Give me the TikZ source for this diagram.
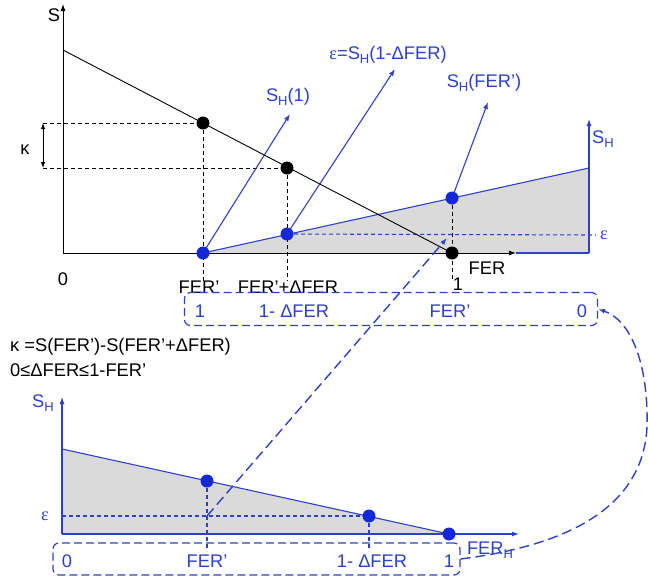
\documentclass[tikz,border=0pt]{standalone}
\usepackage{fontspec}
\setmainfont{Liberation Sans}
\newfontfamily\serifgr{Liberation Serif}
\usetikzlibrary{arrows.meta}
\definecolor{bl}{RGB}{45,65,200}
\definecolor{dotblue}{RGB}{20,40,215}
\definecolor{greyfill}{RGB}{218,218,218}
\newcommand\lowH{\raisebox{-0.4ex}{\fontsize{13}{13}\selectfont H}}
\newcommand\eps{{\serifgr ε}}
\begin{document}
\begin{tikzpicture}[x=1pt,y=-1pt,
 lbl/.style={font=\fontsize{18.3}{20}\selectfont, inner sep=0pt},
 blbl/.style={lbl, text=bl},
 bdot/.style={circle, fill=black, minimum size=13pt, inner sep=0pt},
 udot/.style={circle, fill=dotblue, minimum size=13pt, inner sep=0pt},
 blk/.style={black, line width=0.9pt},
 bline/.style={bl, line width=1.1pt},
 bdash/.style={bl, line width=1.1pt, dash pattern=on 4pt off 3pt},
 kdash/.style={black, line width=1pt, dash pattern=on 4pt off 3pt},
 ldash/.style={bl, line width=1.4pt, dash pattern=on 10pt off 5pt},
 tip/.style={-{Latex[length=7pt,width=5pt]}},
 frame/.style={draw=bl, line width=1.2pt, dash pattern=on 8pt off 4pt, rounded corners=6pt, inner sep=0pt}
]
\useasboundingbox (0,0) rectangle (648,582);

% ---------- top chart coordinates ----------
\coordinate (O) at (63,253);
\coordinate (Stop) at (63,4);
\coordinate (Xend) at (516,253);
\coordinate (Sstart) at (63,50);
\coordinate (SHbase) at (589,253);
\coordinate (SHtop) at (589,119);
\coordinate (SHhi) at (589,168);
\coordinate (pk1) at (203,123);
\coordinate (pk2) at (287,168);
\coordinate (pk3) at (452,253);
\coordinate (pu1) at (203,253);
\coordinate (pu2) at (287,234);
\coordinate (pu3) at (452,198);
\coordinate (ka) at (43,123);
\coordinate (kb) at (43,168);
\coordinate (d1) at (203,281);
\coordinate (d2) at (287,281);
\coordinate (d3) at (452,281);
\coordinate (epsend) at (596,235);
\coordinate (a1) at (290,114);
\coordinate (a2) at (395,69);
\coordinate (a3) at (488,102);

\fill[greyfill] (pu1) -- (SHhi) -- (SHbase) -- cycle;
\draw[bdash] (pu2) -- (epsend);
\draw[kdash] (ka) -- (pk1);
\draw[kdash] (kb) -- (pk2);
\draw[kdash] (pk1) -- (d1);
\draw[kdash] (pk2) -- (d2);
\draw[kdash] (pu3) -- (d3);
\draw[blk, {Latex[length=6pt,width=4.5pt]}-{Latex[length=6pt,width=4.5pt]}] (ka) -- (kb);
\draw[bline] (pu1) -- (SHhi);
\draw[bline, tip] (pu1) -- (a1);
\draw[bline, tip] (pu2) -- (a2);
\draw[bline, tip] (pu3) -- (a3);
\draw[blk] (Sstart) -- (pk3);
\draw[bline] (Xend) -- (SHbase);
\draw[bline, tip] (SHbase) -- (SHtop);
\draw[blk, tip] (O) -- (Xend);
\draw[blk, tip] (O) -- (Stop);

\node[bdot] (k1) at (pk1) {};
\node[bdot] (k2) at (pk2) {};
\node[bdot] (k3) at (pk3) {};
\node[udot] (u1) at (pu1) {};
\node[udot] (u2) at (pu2) {};
\node[udot] (u3) at (pu3) {};

\node[lbl] (lS) at (54,15) {S};
\node[lbl] (l0) at (63,279) {0};
\node[lbl] (lk) at (25,150) {κ};
\node[lbl] (lF1) at (199,287) {FER'};
\node[lbl] (lF2) at (288,287) {FER'+ΔFER};
\node[lbl] (lone) at (458,284) {1};
\node[lbl] (lFER) at (487,268) {FER};
\node[blbl] (le) at (604,235) {\eps};
\node[blbl] (lSH) at (603,139) {S\lowH};
\node[blbl] (lA1) at (288,97) {S\lowH(1)};
\node[blbl] (lA2) at (388,55) {\eps=S\lowH(1-ΔFER)};
\node[blbl] (lA3) at (484,83) {S\lowH(FER')};

% top box
\node[frame, minimum width=413pt, minimum height=33pt] (topbox) at (391,309) {};
\node[blbl] at (200,311) {1};
\node[blbl] at (294,311) {1- ΔFER};
\node[blbl] at (450,311) {FER'};
\node[blbl] at (582,311) {0};

% formulas
\node[lbl, anchor=west] (f1) at (10,347) {κ =S(FER')-S(FER'+ΔFER)};
\node[lbl, anchor=west] (f2) at (10,370) {0≤ΔFER≤1-FER'};

% ---------- bottom chart ----------
\coordinate (O2) at (62,534);
\coordinate (Y2) at (62,397);
\coordinate (X2) at (519,534);
\coordinate (L2) at (62,449);
\coordinate (pb1) at (207,481);
\coordinate (pb2) at (369,516);
\coordinate (pb3) at (449,534);
\coordinate (e1) at (207,516);
\coordinate (e0) at (62,516);
\coordinate (v1) at (207,551);
\coordinate (v2) at (369,551);
\coordinate (tgt) at (447,238);

\fill[greyfill] (L2) -- (pb3) -- (O2) -- cycle;
\draw[bdash] (e0) -- (pb2);
\draw[bdash] (pb1) -- (v1);
\draw[bdash] (pb2) -- (v2);
\draw[bline] (L2) -- (pb3);
\draw[bline, tip] (O2) -- (Y2);
\draw[bline, tip] (O2) -- (X2);
\node[udot] (b1) at (pb1) {};
\node[udot] (b2) at (pb2) {};
\node[udot] (b3) at (pb3) {};

\node[blbl] at (43,403) {S\lowH};
\node[blbl] at (45,516) {\eps};
\node[blbl] at (490,550) {FER\lowH};

\node[frame, minimum width=407pt, minimum height=32pt] (botbox) at (256.5,559) {};
\node[blbl] at (67,561) {0};
\node[blbl] at (207,561) {FER'};
\node[blbl] at (372,561) {1- ΔFER};
\node[blbl] at (449,561) {1};

% connectors
\draw[ldash, tip] (e1) -- (tgt);
\draw[ldash, tip] (botbox.east) .. controls (610,540) and (650,480) .. (647,413) .. controls (646,360) and (630,320) .. (topbox.east);
\end{tikzpicture}
\end{document}
